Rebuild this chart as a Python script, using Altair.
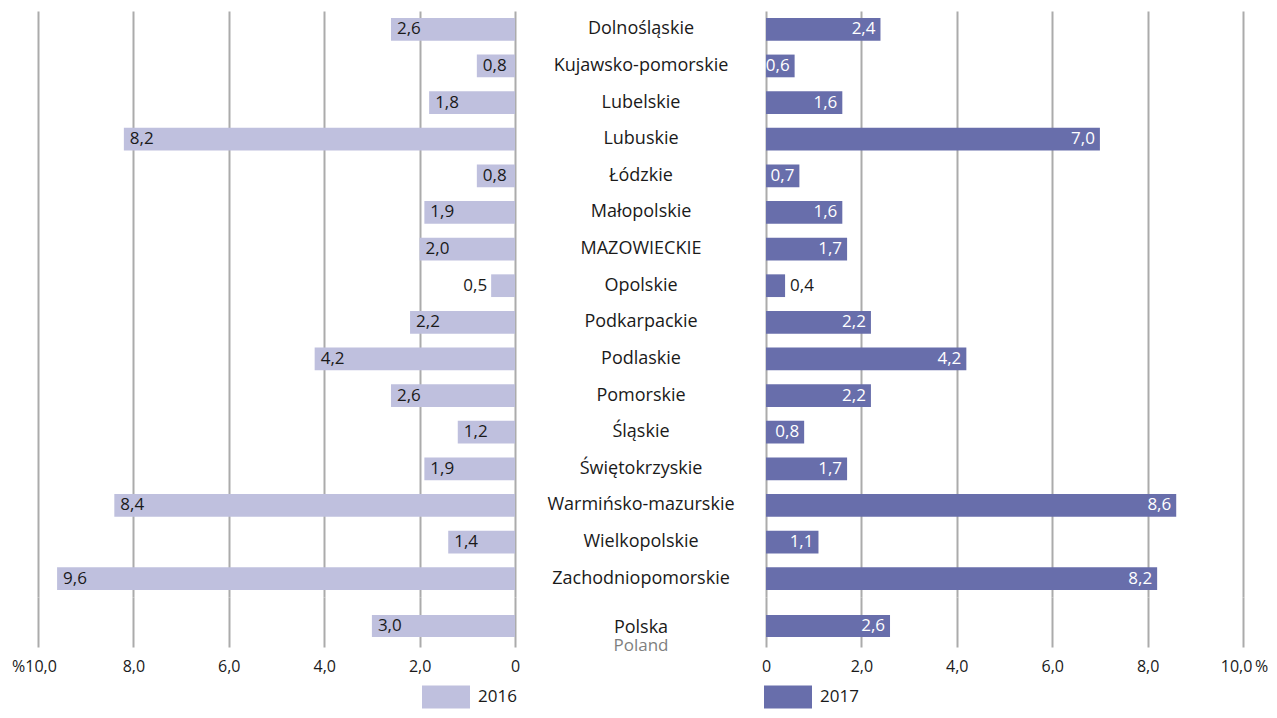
import altair as alt
import pandas as pd

# ---------------- data ----------------
regions = [
    "Dolnośląskie", "Kujawsko-pomorskie", "Lubelskie", "Lubuskie", "Łódzkie",
    "Małopolskie", "MAZOWIECKIE", "Opolskie", "Podkarpackie", "Podlaskie",
    "Pomorskie", "Śląskie", "Świętokrzyskie", "Warmińsko-mazurskie",
    "Wielkopolskie", "Zachodniopomorskie",
]
v2016 = [2.6, 0.8, 1.8, 8.2, 0.8, 1.9, 2.0, 0.5, 2.2, 4.2, 2.6, 1.2, 1.9, 8.4, 1.4, 9.6]
v2017 = [2.4, 0.6, 1.6, 7.0, 0.7, 1.6, 1.7, 0.4, 2.2, 4.2, 2.2, 0.8, 1.7, 8.6, 1.1, 8.2]
country_pl = "Polska"
country_en = "Poland"
country_2016 = 3.0
country_2017 = 2.6
years = ["2016", "2017"]
tick_values = [0, 2, 4, 6, 8, 10]

# ---------------- styles ----------------
C16 = "#bfc0de"
C17 = "#686eab"
GRID = "#ababab"
TXT = "#1a1a1a"
FONT = "Open Sans"
FS = 17
FS_TICK = 16
FS_CAT = 18
W = 477
TOP_H = 586
BOT_H = 50
GAP = 251
# legend swatch: 48 x 23 px rectangle (path spans [-2,2] x [-0.96,0.96], scaled by sqrt(size)/2)
SWATCH = "M-2,-0.96H2V0.96H-2Z"
SWATCH_SIZE = 576


def fmt(v):
    return f"{v:.1f}".replace(".", ",")


top = pd.DataFrame({"region": regions, "v16": v2016, "v17": v2017})
top["l16"] = top["v16"].map(fmt)
top["l17"] = top["v17"].map(fmt)

bot = pd.DataFrame({
    "region": [country_pl], "v16": [country_2016], "v17": [country_2017],
    "y16": [years[0]], "y17": [years[1]],
})
bot["l16"] = bot["v16"].map(fmt)
bot["l17"] = bot["v17"].map(fmt)

INSIDE = "datum.v >= 0.55"
OUTSIDE = "datum.v < 0.55"


def x_axis(labels, side):
    if not labels:
        return alt.Axis(values=tick_values, labels=False, ticks=False, domain=False,
                        grid=True, title=None)
    if side == "left":
        expr = ("datum.value == 10 ? '%10,0' : datum.value == 0 ? '0' : "
                "replace(format(datum.value, '.1f'), '.', ',')")
        end_shift = -4
    else:
        expr = ("datum.value == 10 ? '10,0\u2009%' : datum.value == 0 ? '0' : "
                "replace(format(datum.value, '.1f'), '.', ',')")
        end_shift = 1
    return alt.Axis(values=tick_values, labels=True, ticks=False, domain=False,
                    grid=True, title=None, labelExpr=expr, labelPadding=11,
                    labelFlush=False, labelFontSize=FS_TICK, labelColor=TXT, labelFont=FONT,
                    labelOffset={"condition": {"test": "datum.value == 10",
                                               "value": end_shift}, "value": 0})


def panel(df, side, is_top):
    fld = "v16" if side == "left" else "v17"
    lab = "l16" if side == "left" else "l17"
    base = alt.Chart(df).transform_calculate(v=f"datum.{fld}")
    xscale = alt.Scale(domain=[0, 10], nice=False, reverse=(side == "left"))
    if is_top:
        yscale = alt.Scale(paddingInner=0.38, paddingOuter=0.19)
    else:
        yscale = alt.Scale(paddingInner=0, paddingOuter=0.636, align=0.643)

    if side == "right":
        yaxis = alt.Axis(orient="left", labelAlign="center", labelBaseline="middle",
                         labelPadding=GAP / 2, ticks=False, tickSize=0, domain=False,
                         grid=False, title=None, labelFontSize=FS_CAT, labelColor=TXT,
                         labelFont=FONT, labelLimit=400,
                         labelOffset=0 if is_top else 2)
    elif not is_top:
        yaxis = alt.Axis(orient="right", labelAlign="center", labelBaseline="middle",
                         labelPadding=GAP / 2, ticks=False, tickSize=0, domain=False,
                         grid=False, title=None, labelFontSize=FS, labelColor="#7f7f7f",
                         labelFont=FONT, labelLimit=400, labelOffset=20,
                         labelExpr=f"'{country_en}'")
    else:
        yaxis = None

    y = alt.Y("region:N", sort=regions if is_top else [country_pl], scale=yscale, axis=yaxis)
    x = alt.X("v:Q", scale=xscale, axis=x_axis(not is_top, side))

    color_val = C16 if side == "left" else C17
    if is_top:
        bars = base.mark_bar(color=color_val).encode(x=x, y=y)
    else:
        yf = "y16" if side == "left" else "y17"
        yr = years[0] if side == "left" else years[1]
        lx = 396 if side == "left" else 10
        ly = 88
        bars = base.mark_bar().encode(
            x=x, y=y,
            color=alt.Color(f"{yf}:N", scale=alt.Scale(domain=[yr], range=[color_val]),
                            legend=alt.Legend(orient="none", legendX=lx, legendY=ly,
                                              title=None, padding=0,
                                              symbolType=SWATCH,
                                              symbolSize=SWATCH_SIZE, symbolStrokeWidth=0,
                                              symbolOpacity=1, labelFontSize=FS,
                                              labelFont=FONT, labelColor=TXT,
                                              labelOffset=20)),
        )

    if side == "left":
        t_in = base.transform_filter(INSIDE).mark_text(
            align="left", baseline="middle", dx=6, fontSize=FS, font=FONT, color=TXT
        ).encode(x=x, y=y, text=f"{lab}:N")
        t_out = base.transform_filter(OUTSIDE).mark_text(
            align="right", baseline="middle", dx=-4, fontSize=FS, font=FONT, color=TXT
        ).encode(x=x, y=y, text=f"{lab}:N")
    else:
        t_in = base.transform_filter(INSIDE).mark_text(
            align="right", baseline="middle", dx=-5, fontSize=FS, font=FONT, color="white"
        ).encode(x=x, y=y, text=f"{lab}:N")
        t_out = base.transform_filter(OUTSIDE).mark_text(
            align="left", baseline="middle", dx=5, fontSize=FS, font=FONT, color=TXT
        ).encode(x=x, y=y, text=f"{lab}:N")

    return alt.layer(bars, t_in, t_out).properties(width=W, height=TOP_H if is_top else BOT_H)


TL = panel(top, "left", True)
TR = panel(top, "right", True)
BL = panel(bot, "left", False)
BR = panel(bot, "right", False)

chart = alt.concat(
    TL, TR, BL, BR, columns=2, spacing={"row": 0, "column": GAP}, bounds="flush"
).resolve_scale(color="independent").resolve_legend(color="independent").properties(
    padding={"left": 3, "top": 3, "right": 0, "bottom": 0}
).configure(font=FONT).configure_view(stroke=None).configure_axis(
    gridColor=GRID, gridWidth=2, gridOpacity=1
)

chart.save("out.html", embed_options={"renderer": "svg", "actions": False})
